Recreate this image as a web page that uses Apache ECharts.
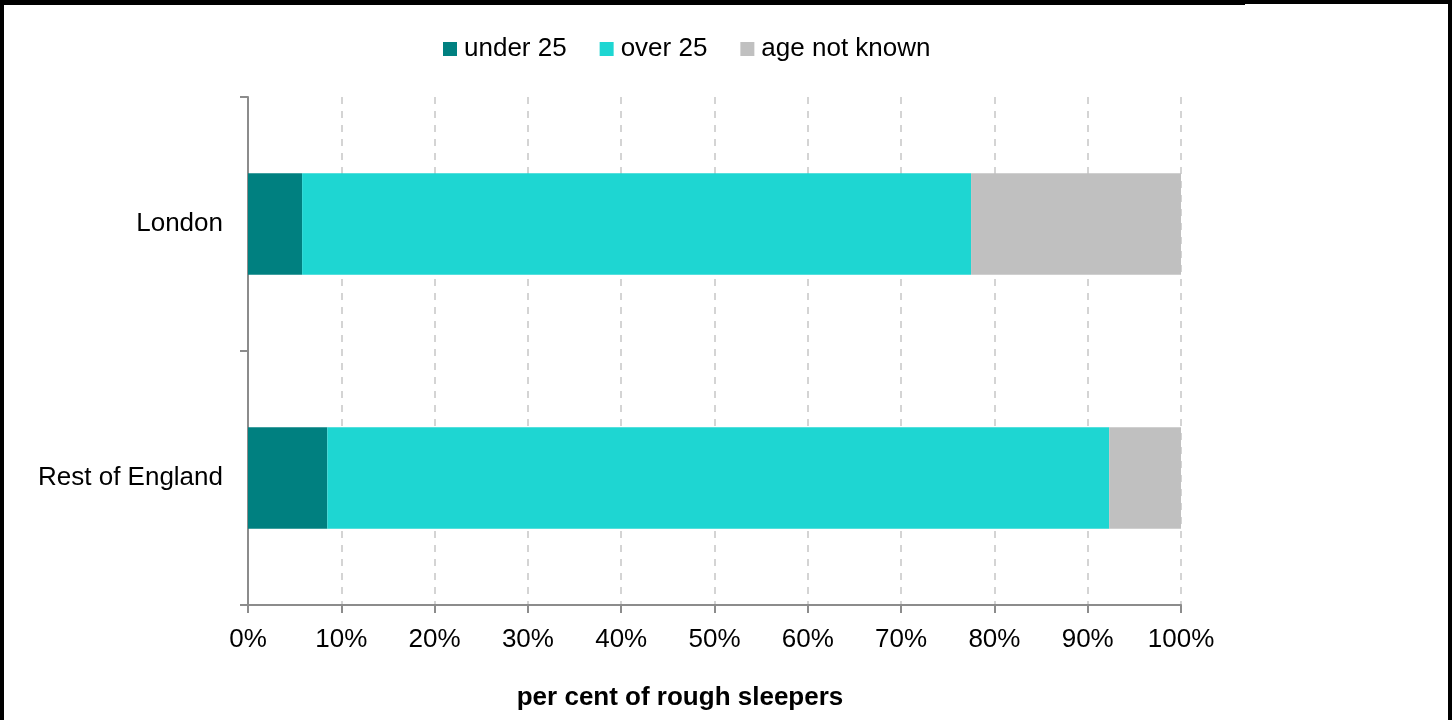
<!DOCTYPE html>
<html>
<head>
<meta charset="utf-8">
<title>Rough sleepers by age</title>
<script src="https://cdn.jsdelivr.net/npm/echarts@6/dist/echarts.min.js"></script>
<style>
  html, body { margin: 0; padding: 0; background: #fff; }
  #wrap { position: relative; width: 1455px; height: 720px; overflow: hidden; }
  #chart { position: absolute; left: 0; top: 0; width: 1455px; height: 720px; }
  .frame { position: absolute; background: #000; }
</style>
</head>
<body>
<div id="wrap">
  <div id="chart"></div>
  <div class="frame" style="left:0;top:0;width:1245px;height:5px;"></div>
  <div class="frame" style="left:1245px;top:0;width:207px;height:4px;"></div>
  <div class="frame" style="left:0;top:0;width:4px;height:720px;"></div>
  <div class="frame" style="left:1448px;top:0;width:4px;height:720px;"></div>
</div>
<script>
// Regions shown as bars, top to bottom
const regions = ['London', 'Rest of England'];

// Share of rough sleepers in each age group (per cent)
const under25 = [5.8, 8.5];
const over25 = [71.7, 83.8];
const ageNotKnown = [22.5, 7.7];

// Horizontal axis ticks
const tickValues = [0, 10, 20, 30, 40, 50, 60, 70, 80, 90, 100];

const seriesNames = ['under 25', 'over 25', 'age not known'];
const seriesColors = ['#008080', '#1ED6D2', '#C0C0C0'];
const seriesData = [under25, over25, ageNotKnown];

const FONT = "'Liberation Sans', Arial, sans-serif";
const AXIS_GREY = '#8c8c8c';

const chart = echarts.init(document.getElementById('chart'), null, { renderer: 'canvas' });

chart.setOption({
  animation: false,
  backgroundColor: '#fff',
  textStyle: { fontFamily: FONT },
  legend: {
    data: seriesNames,
    left: 443,
    top: 36,
    padding: 0,
    icon: 'rect',
    itemWidth: 14,
    itemHeight: 14,
    itemGap: 33,
    textStyle: { fontFamily: FONT, fontSize: 26, color: '#000', padding: [0, 0, 0, 2] },
    selectedMode: false
  },
  grid: { left: 248, right: 274, top: 97, bottom: 115, containLabel: false },
  xAxis: {
    type: 'value',
    min: tickValues[0],
    max: tickValues[tickValues.length - 1],
    interval: tickValues[1] - tickValues[0],
    axisLine: { show: true, lineStyle: { color: AXIS_GREY, width: 2 } },
    axisTick: { show: true, length: 8, lineStyle: { color: AXIS_GREY, width: 2 } },
    axisLabel: {
      margin: 22,
      fontFamily: FONT,
      fontSize: 26,
      color: '#000',
      formatter: v => v + '%'
    },
    splitLine: {
      show: true,
      lineStyle: { color: '#c6c6c6', width: 1.5, type: [7, 7] }
    }
  },
  yAxis: {
    type: 'category',
    data: regions,
    inverse: true,
    axisLine: { show: true, lineStyle: { color: AXIS_GREY, width: 2 } },
    axisTick: { show: true, length: 8, lineStyle: { color: AXIS_GREY, width: 2 } },
    axisLabel: { margin: 25, fontFamily: FONT, fontSize: 26, color: '#000', padding: [8, 0, 0, 0] },
    splitLine: { show: false }
  },
  series: seriesNames.map((name, i) => ({
    name: name,
    type: 'bar',
    stack: 'total',
    barWidth: '40%',
    itemStyle: { color: seriesColors[i] },
    data: seriesData[i]
  })),
  graphic: [{
    type: 'text',
    x: 680,
    y: 698,
    style: {
      text: 'per cent of rough sleepers',
      font: "bold 26px 'Liberation Sans', Arial, sans-serif",
      fill: '#000',
      align: 'center',
      verticalAlign: 'middle'
    }
  }]
});
</script>
</body>
</html>
